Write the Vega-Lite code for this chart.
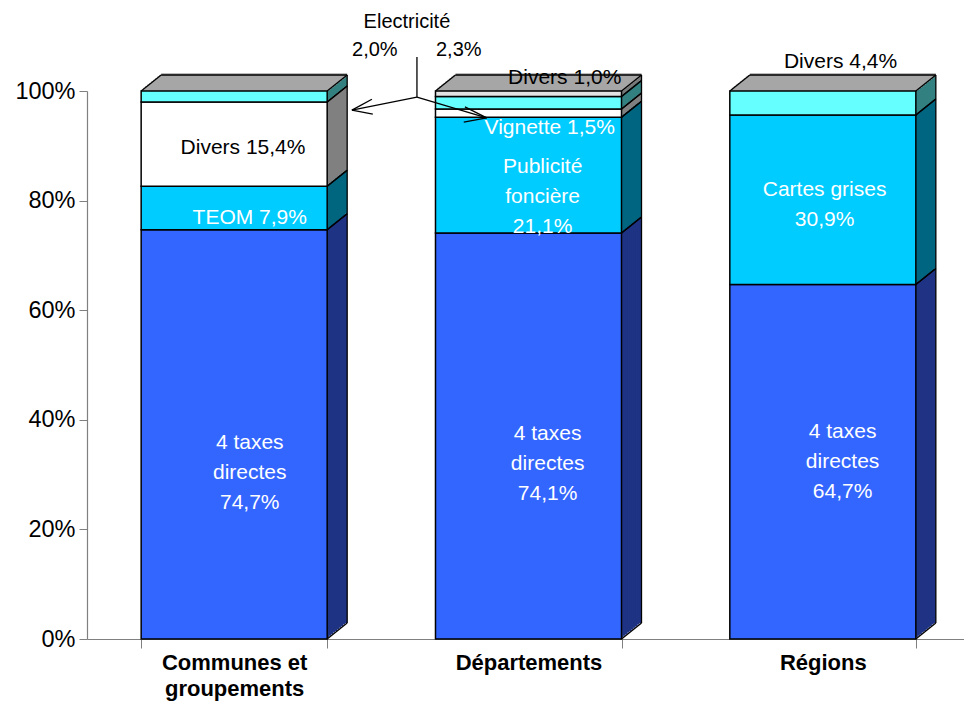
{
"$schema": "https://vega.github.io/schema/vega-lite/v6.json",
"width": 883, "height": 548,
"autosize": "none",
"padding": {"left": 87, "top": 91, "right": 0, "bottom": 70},
"background": "white",
"config": {
  "view": {"stroke": null},
  "axis": {"labelFont": "Liberation Sans", "labelColor": "black", "domainColor": "#808080", "tickColor": "#808080", "grid": false, "title": null},
  "text": {"font": "Liberation Sans", "fontSize": 21, "lineHeight": 30, "baseline": "middle", "align": "center"}
},
"datasets": {
  "shares": [
    {"cat": "Communes et groupements", "serie": "s1", "label": "4 taxes directes", "value": 74.7},
    {"cat": "Communes et groupements", "serie": "s2", "label": "TEOM", "value": 7.9},
    {"cat": "Communes et groupements", "serie": "s3", "label": "Divers", "value": 15.4},
    {"cat": "Communes et groupements", "serie": "s4", "label": "Electricité", "value": 2.0},
    {"cat": "Départements", "serie": "s1", "label": "4 taxes directes", "value": 74.1},
    {"cat": "Départements", "serie": "s2", "label": "Publicité foncière", "value": 21.1},
    {"cat": "Départements", "serie": "s3", "label": "Vignette", "value": 1.5},
    {"cat": "Départements", "serie": "s4", "label": "Electricité", "value": 2.3},
    {"cat": "Départements", "serie": "s5", "label": "Divers", "value": 1.0},
    {"cat": "Régions", "serie": "s1", "label": "4 taxes directes", "value": 64.7},
    {"cat": "Régions", "serie": "s2", "label": "Cartes grises", "value": 30.9},
    {"cat": "Régions", "serie": "s4", "label": "Divers", "value": 4.4}
  ]
},
"resolve": {"scale": {"x": "independent"}, "axis": {"x": "independent"}},
"layer": [
{
  "data": {"name": "shares"},
  "transform": [{"stack": "value", "groupby": ["cat"], "sort": [{"field": "serie", "order": "ascending"}], "as": ["v0", "v1"]}],
  "encoding": {
    "x": {"field": "cat", "type": "nominal", "sort": null,
      "scale": {"type": "band", "domain": ["Communes et groupements", "Départements", "Régions"], "paddingInner": 0.368, "paddingOuter": 0.184},
      "axis": {"tickBand": "extent", "labelAngle": 0, "labelFontSize": 22, "labelFontWeight": "bold", "labelLineHeight": 26, "labelPadding": 4, "tickSize": 9, "domainWidth": 1.2, "title": null,
        "labelExpr": "datum.value == 'Communes et groupements' ? ['Communes et', 'groupements'] : datum.value"}}
  },
  "layer": [
    {"mark": {"type": "bar", "xOffset": 20, "yOffset": -16, "y2Offset": -16}, "encoding": {"y": {"field": "v1", "type": "quantitative"}, "y2": {"field": "v0"}, "fill": {"field": "serie", "type": "nominal", "scale": {"domain": ["s1", "s2", "s3", "s4", "s5"], "range": ["#1F3385", "#006680", "#808080", "#338080", "#787878"]}, "legend": null}}},
    {"transform": [{"filter": "datum.serie == 's1'"}], "mark": {"type": "rule", "color": "#A6A6A6", "strokeWidth": 3.4, "xOffset": 20, "x2Offset": 20, "yOffset": -16}, "encoding": {"x": {"field": "cat", "type": "nominal", "bandPosition": 0, "scale": {"type": "band"}}, "x2": {"field": "cat", "bandPosition": 1}, "y": {"datum": 100, "type": "quantitative"}}},
    {"mark": {"type": "bar", "xOffset": 18, "yOffset": -14.4, "y2Offset": -14.4}, "encoding": {"y": {"field": "v1", "type": "quantitative"}, "y2": {"field": "v0"}, "fill": {"field": "serie", "type": "nominal", "legend": null}}},
    {"transform": [{"filter": "datum.serie == 's1'"}], "mark": {"type": "rule", "color": "#A6A6A6", "strokeWidth": 3.4, "xOffset": 18, "x2Offset": 18, "yOffset": -14.4}, "encoding": {"x": {"field": "cat", "type": "nominal", "bandPosition": 0, "scale": {"type": "band"}}, "x2": {"field": "cat", "bandPosition": 1}, "y": {"datum": 100, "type": "quantitative"}}},
    {"mark": {"type": "bar", "xOffset": 16, "yOffset": -12.8, "y2Offset": -12.8}, "encoding": {"y": {"field": "v1", "type": "quantitative"}, "y2": {"field": "v0"}, "fill": {"field": "serie", "type": "nominal", "legend": null}}},
    {"transform": [{"filter": "datum.serie == 's1'"}], "mark": {"type": "rule", "color": "#A6A6A6", "strokeWidth": 3.4, "xOffset": 16, "x2Offset": 16, "yOffset": -12.8}, "encoding": {"x": {"field": "cat", "type": "nominal", "bandPosition": 0, "scale": {"type": "band"}}, "x2": {"field": "cat", "bandPosition": 1}, "y": {"datum": 100, "type": "quantitative"}}},
    {"mark": {"type": "bar", "xOffset": 14, "yOffset": -11.2, "y2Offset": -11.2}, "encoding": {"y": {"field": "v1", "type": "quantitative"}, "y2": {"field": "v0"}, "fill": {"field": "serie", "type": "nominal", "legend": null}}},
    {"transform": [{"filter": "datum.serie == 's1'"}], "mark": {"type": "rule", "color": "#A6A6A6", "strokeWidth": 3.4, "xOffset": 14, "x2Offset": 14, "yOffset": -11.2}, "encoding": {"x": {"field": "cat", "type": "nominal", "bandPosition": 0, "scale": {"type": "band"}}, "x2": {"field": "cat", "bandPosition": 1}, "y": {"datum": 100, "type": "quantitative"}}},
    {"mark": {"type": "bar", "xOffset": 12, "yOffset": -9.6, "y2Offset": -9.6}, "encoding": {"y": {"field": "v1", "type": "quantitative"}, "y2": {"field": "v0"}, "fill": {"field": "serie", "type": "nominal", "legend": null}}},
    {"transform": [{"filter": "datum.serie == 's1'"}], "mark": {"type": "rule", "color": "#A6A6A6", "strokeWidth": 3.4, "xOffset": 12, "x2Offset": 12, "yOffset": -9.6}, "encoding": {"x": {"field": "cat", "type": "nominal", "bandPosition": 0, "scale": {"type": "band"}}, "x2": {"field": "cat", "bandPosition": 1}, "y": {"datum": 100, "type": "quantitative"}}},
    {"mark": {"type": "bar", "xOffset": 10, "yOffset": -8, "y2Offset": -8}, "encoding": {"y": {"field": "v1", "type": "quantitative"}, "y2": {"field": "v0"}, "fill": {"field": "serie", "type": "nominal", "legend": null}}},
    {"transform": [{"filter": "datum.serie == 's1'"}], "mark": {"type": "rule", "color": "#A6A6A6", "strokeWidth": 3.4, "xOffset": 10, "x2Offset": 10, "yOffset": -8}, "encoding": {"x": {"field": "cat", "type": "nominal", "bandPosition": 0, "scale": {"type": "band"}}, "x2": {"field": "cat", "bandPosition": 1}, "y": {"datum": 100, "type": "quantitative"}}},
    {"mark": {"type": "bar", "xOffset": 8, "yOffset": -6.4, "y2Offset": -6.4}, "encoding": {"y": {"field": "v1", "type": "quantitative"}, "y2": {"field": "v0"}, "fill": {"field": "serie", "type": "nominal", "legend": null}}},
    {"transform": [{"filter": "datum.serie == 's1'"}], "mark": {"type": "rule", "color": "#A6A6A6", "strokeWidth": 3.4, "xOffset": 8, "x2Offset": 8, "yOffset": -6.4}, "encoding": {"x": {"field": "cat", "type": "nominal", "bandPosition": 0, "scale": {"type": "band"}}, "x2": {"field": "cat", "bandPosition": 1}, "y": {"datum": 100, "type": "quantitative"}}},
    {"mark": {"type": "bar", "xOffset": 6, "yOffset": -4.8, "y2Offset": -4.8}, "encoding": {"y": {"field": "v1", "type": "quantitative"}, "y2": {"field": "v0"}, "fill": {"field": "serie", "type": "nominal", "legend": null}}},
    {"transform": [{"filter": "datum.serie == 's1'"}], "mark": {"type": "rule", "color": "#A6A6A6", "strokeWidth": 3.4, "xOffset": 6, "x2Offset": 6, "yOffset": -4.8}, "encoding": {"x": {"field": "cat", "type": "nominal", "bandPosition": 0, "scale": {"type": "band"}}, "x2": {"field": "cat", "bandPosition": 1}, "y": {"datum": 100, "type": "quantitative"}}},
    {"mark": {"type": "bar", "xOffset": 4, "yOffset": -3.2, "y2Offset": -3.2}, "encoding": {"y": {"field": "v1", "type": "quantitative"}, "y2": {"field": "v0"}, "fill": {"field": "serie", "type": "nominal", "legend": null}}},
    {"transform": [{"filter": "datum.serie == 's1'"}], "mark": {"type": "rule", "color": "#A6A6A6", "strokeWidth": 3.4, "xOffset": 4, "x2Offset": 4, "yOffset": -3.2}, "encoding": {"x": {"field": "cat", "type": "nominal", "bandPosition": 0, "scale": {"type": "band"}}, "x2": {"field": "cat", "bandPosition": 1}, "y": {"datum": 100, "type": "quantitative"}}},
    {"mark": {"type": "bar", "xOffset": 2, "yOffset": -1.6, "y2Offset": -1.6}, "encoding": {"y": {"field": "v1", "type": "quantitative"}, "y2": {"field": "v0"}, "fill": {"field": "serie", "type": "nominal", "legend": null}}},
    {"transform": [{"filter": "datum.serie == 's1'"}], "mark": {"type": "rule", "color": "#A6A6A6", "strokeWidth": 3.4, "xOffset": 2, "x2Offset": 2, "yOffset": -1.6}, "encoding": {"x": {"field": "cat", "type": "nominal", "bandPosition": 0, "scale": {"type": "band"}}, "x2": {"field": "cat", "bandPosition": 1}, "y": {"datum": 100, "type": "quantitative"}}},
    {"mark": {"type": "bar", "stroke": "black", "strokeWidth": 1.5},
     "encoding": {
       "y": {"field": "v1", "type": "quantitative", "scale": {"domain": [0, 100], "nice": false, "zero": true},
         "axis": {"values": [0, 20, 40, 60, 80, 100], "labelExpr": "datum.value + '%'", "labelFontSize": 23.5, "labelPadding": 4, "tickSize": 8, "domainWidth": 1.2, "title": null}},
       "y2": {"field": "v0"},
       "color": {"field": "serie", "type": "nominal", "scale": {"domain": ["s1", "s2", "s3", "s4", "s5"], "range": ["#3366FF", "#00CCFF", "#FFFFFF", "#66FFFF", "#E3E3E3"]}, "legend": null}}},
    {"mark": {"type": "rule", "color": "black", "strokeWidth": 1.3, "x2Offset": 20, "y2Offset": -16}, "encoding": {"x": {"field": "cat", "type": "nominal", "bandPosition": 1, "scale": {"type": "band"}}, "x2": {"field": "cat", "bandPosition": 1}, "y": {"field": "v1", "type": "quantitative"}, "y2": {"field": "v1"}}},
    {"mark": {"type": "rule", "color": "black", "strokeWidth": 1.3, "x2Offset": 20, "y2Offset": -16}, "encoding": {"x": {"field": "cat", "type": "nominal", "bandPosition": 1, "scale": {"type": "band"}}, "x2": {"field": "cat", "bandPosition": 1}, "y": {"field": "v0", "type": "quantitative"}, "y2": {"field": "v0"}}},
    {"transform": [{"filter": "datum.serie == 's1'"}], "mark": {"type": "rule", "color": "black", "strokeWidth": 1.3, "x2Offset": 20, "y2Offset": -16}, "encoding": {"x": {"field": "cat", "type": "nominal", "bandPosition": 0, "scale": {"type": "band"}}, "x2": {"field": "cat", "bandPosition": 0}, "y": {"datum": 100, "type": "quantitative"}, "y2": {"datum": 100}}},
    {"transform": [{"filter": "datum.serie == 's1'"}], "mark": {"type": "rule", "color": "black", "strokeWidth": 1.3, "xOffset": 20, "x2Offset": 20, "yOffset": -16}, "encoding": {"x": {"field": "cat", "type": "nominal", "bandPosition": 0, "scale": {"type": "band"}}, "x2": {"field": "cat", "bandPosition": 1}, "y": {"datum": 100, "type": "quantitative"}}},
    {"transform": [{"filter": "datum.serie == 's1'"}], "mark": {"type": "rule", "color": "black", "strokeWidth": 1.3, "xOffset": 20, "yOffset": -16, "y2Offset": -16}, "encoding": {"x": {"field": "cat", "type": "nominal", "bandPosition": 1, "scale": {"type": "band"}}, "y": {"datum": 0, "type": "quantitative"}, "y2": {"datum": 100}}}
  ]
},
{
  "data": {"values": [{}]},
  "layer": [
    {"mark": {"type": "text", "color": "white"}, "encoding": {"x": {"datum": 0.553, "type": "quantitative", "scale": {"domain": [0, 3], "nice": false, "zero": false}, "axis": null}, "y": {"datum": 35.8, "type": "quantitative"}, "text": {"value": ["4 taxes", "directes", "74,7%"]}}},
    {"mark": {"type": "text", "color": "white"}, "encoding": {"x": {"datum": 0.553, "type": "quantitative", "axis": null}, "y": {"datum": 76.8, "type": "quantitative"}, "text": {"value": "TEOM 7,9%"}}},
    {"mark": {"type": "text", "color": "black"}, "encoding": {"x": {"datum": 0.53, "type": "quantitative", "axis": null}, "y": {"datum": 89.6, "type": "quantitative"}, "text": {"value": "Divers 15,4%"}}},
    {"mark": {"type": "text", "color": "black", "fontSize": 20}, "encoding": {"x": {"datum": 1.087, "type": "quantitative", "axis": null}, "y": {"datum": 112.6, "type": "quantitative"}, "text": {"value": "Electricité"}}},
    {"mark": {"type": "text", "color": "black", "fontSize": 20}, "encoding": {"x": {"datum": 0.978, "type": "quantitative", "axis": null}, "y": {"datum": 107.5, "type": "quantitative"}, "text": {"value": "2,0%"}}},
    {"mark": {"type": "text", "color": "black", "fontSize": 20}, "encoding": {"x": {"datum": 1.263, "type": "quantitative", "axis": null}, "y": {"datum": 107.5, "type": "quantitative"}, "text": {"value": "2,3%"}}},
    {"mark": {"type": "text", "color": "black"}, "encoding": {"x": {"datum": 1.623, "type": "quantitative", "axis": null}, "y": {"datum": 102.4, "type": "quantitative"}, "text": {"value": "Divers 1,0%"}}},
    {"mark": {"type": "text", "color": "white"}, "encoding": {"x": {"datum": 1.572, "type": "quantitative", "axis": null}, "y": {"datum": 93.2, "type": "quantitative"}, "text": {"value": "Vignette 1,5%"}}},
    {"mark": {"type": "text", "color": "white"}, "encoding": {"x": {"datum": 1.548, "type": "quantitative", "axis": null}, "y": {"datum": 86.1, "type": "quantitative"}, "text": {"value": ["Publicité", "foncière", "21,1%"]}}},
    {"mark": {"type": "text", "color": "white"}, "encoding": {"x": {"datum": 1.565, "type": "quantitative", "axis": null}, "y": {"datum": 37.4, "type": "quantitative"}, "text": {"value": ["4 taxes", "directes", "74,1%"]}}},
    {"mark": {"type": "text", "color": "black"}, "encoding": {"x": {"datum": 2.56, "type": "quantitative", "axis": null}, "y": {"datum": 105.3, "type": "quantitative"}, "text": {"value": "Divers 4,4%"}}},
    {"mark": {"type": "text", "color": "white"}, "encoding": {"x": {"datum": 2.506, "type": "quantitative", "axis": null}, "y": {"datum": 81.9, "type": "quantitative"}, "text": {"value": ["Cartes grises", "30,9%"]}}},
    {"mark": {"type": "text", "color": "white"}, "encoding": {"x": {"datum": 2.567, "type": "quantitative", "axis": null}, "y": {"datum": 37.8, "type": "quantitative"}, "text": {"value": ["4 taxes", "directes", "64,7%"]}}},
    {"mark": {"type": "rule", "color": "black", "strokeWidth": 1.3}, "encoding": {"x": {"datum": 1.121, "type": "quantitative", "axis": null}, "y": {"datum": 106.2, "type": "quantitative"}, "y2": {"datum": 98.9}}},
    {"mark": {"type": "rule", "color": "black", "strokeWidth": 1.3}, "encoding": {"x": {"datum": 1.121, "type": "quantitative", "axis": null}, "x2": {"datum": 0.9}, "y": {"datum": 98.9, "type": "quantitative"}, "y2": {"datum": 96.5}}},
    {"mark": {"type": "rule", "color": "black", "strokeWidth": 1.3}, "encoding": {"x": {"datum": 0.9, "type": "quantitative", "axis": null}, "x2": {"datum": 0.968}, "y": {"datum": 96.5, "type": "quantitative"}, "y2": {"datum": 98.5}}},
    {"mark": {"type": "rule", "color": "black", "strokeWidth": 1.3}, "encoding": {"x": {"datum": 0.9, "type": "quantitative", "axis": null}, "x2": {"datum": 0.971}, "y": {"datum": 96.5, "type": "quantitative"}, "y2": {"datum": 95.8}}},
    {"mark": {"type": "rule", "color": "black", "strokeWidth": 1.3}, "encoding": {"x": {"datum": 1.121, "type": "quantitative", "axis": null}, "x2": {"datum": 1.358}, "y": {"datum": 98.9, "type": "quantitative"}, "y2": {"datum": 95.1}}},
    {"mark": {"type": "rule", "color": "black", "strokeWidth": 1.3}, "encoding": {"x": {"datum": 1.358, "type": "quantitative", "axis": null}, "x2": {"datum": 1.284}, "y": {"datum": 95.1, "type": "quantitative"}, "y2": {"datum": 97.1}}},
    {"mark": {"type": "rule", "color": "black", "strokeWidth": 1.3}, "encoding": {"x": {"datum": 1.358, "type": "quantitative", "axis": null}, "x2": {"datum": 1.28}, "y": {"datum": 95.1, "type": "quantitative"}, "y2": {"datum": 94.3}}}
  ]
}
]
}
